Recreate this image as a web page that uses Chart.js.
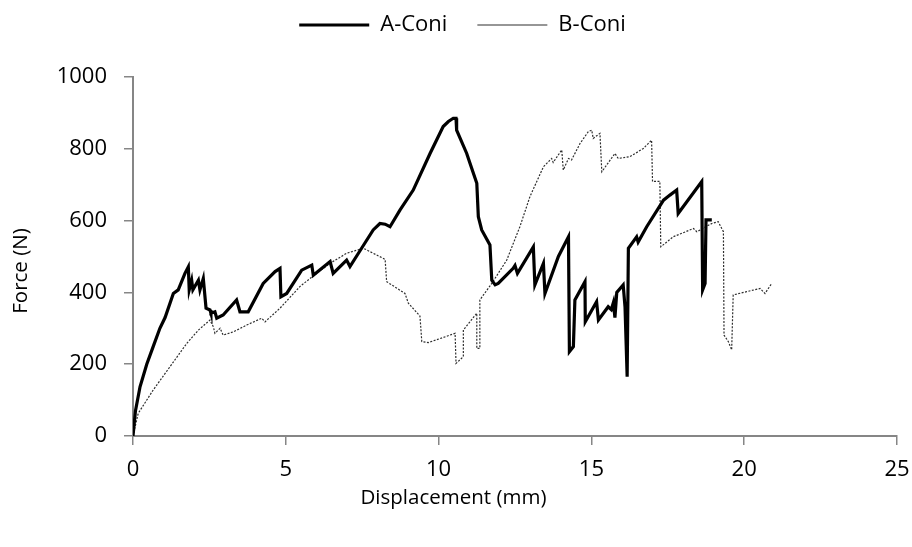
<!DOCTYPE html>
<html>
<head>
<meta charset="utf-8">
<script src="https://cdn.jsdelivr.net/npm/chart.js@4.4.0/dist/chart.umd.min.js"></script>
<style>
  html, body { margin: 0; padding: 0; background: #fff; }
  #wrap { width: 912px; height: 547px; }
</style>
</head>
<body>
<div id="wrap"><canvas id="forceChart"></canvas></div>
<script>
// displacement (mm) / force (N) readings for each specimen
const aDisp = [0, 0.08, 0.23, 0.45, 0.66, 0.88, 1.05, 1.32, 1.48, 1.70, 1.81, 1.84, 1.92, 1.96, 2.14, 2.19, 2.30, 2.39, 2.52, 2.55, 2.68, 2.74, 2.95, 3.39, 3.50, 3.77, 4.26, 4.65, 4.81, 4.84, 5.03, 5.52, 5.85, 5.90, 6.45, 6.55, 6.99, 7.10, 7.48, 7.86, 8.08, 8.25, 8.41, 8.74, 9.17, 9.72, 10.15, 10.32, 10.48, 10.57, 10.59, 10.92, 11.03, 11.25, 11.30, 11.41, 11.68, 11.74, 11.85, 11.95, 12.44, 12.50, 12.58, 13.10, 13.15, 13.43, 13.48, 13.92, 14.25, 14.28, 14.41, 14.46, 14.79, 14.80, 15.17, 15.23, 15.55, 15.65, 15.72, 15.77, 15.83, 16.04, 16.10, 16.17, 16.21, 16.48, 16.53, 16.81, 17.36, 17.57, 17.79, 17.84, 18.61, 18.64, 18.72, 18.75, 18.94];
const aForce = [0, 70, 137, 200, 249, 300, 330, 397, 407, 453, 471, 407, 434, 407, 434, 407, 439, 356, 351, 342, 346, 328, 337, 379, 346, 346, 425, 458, 467, 388, 397, 462, 476, 448, 486, 453, 490, 472, 523, 574, 592, 590, 583, 630, 685, 787, 862, 876, 885, 885, 852, 787, 759, 704, 611, 574, 532, 434, 421, 425, 467, 475, 453, 527, 421, 481, 397, 500, 555, 235, 249, 379, 430, 318, 374, 323, 360, 352, 372, 330, 400, 421, 360, 165, 523, 555, 540, 583, 657, 671, 685, 620, 709, 407, 425, 602, 602];

const bDisp = [0, 0.17, 0.66, 1.21, 1.76, 2.14, 2.52, 2.63, 2.68, 2.85, 2.95, 3.28, 3.72, 4.21, 4.32, 4.81, 5.46, 5.90, 6.45, 6.99, 7.54, 7.86, 8.25, 8.30, 8.90, 9.01, 9.39, 9.45, 9.66, 10.54, 10.57, 10.81, 10.81, 11.25, 11.25, 11.35, 11.35, 11.74, 12.23, 12.66, 12.99, 13.43, 13.70, 13.75, 14.03, 14.08, 14.25, 14.35, 14.63, 14.90, 15.01, 15.06, 15.28, 15.34, 15.77, 15.88, 16.26, 16.70, 16.97, 17.00, 17.24, 17.27, 17.68, 18.34, 18.45, 18.94, 19.15, 19.32, 19.34, 19.48, 19.59, 19.64, 20.08, 20.52, 20.68, 20.90];
const bForce = [0, 63, 128, 193, 258, 295, 323, 304, 286, 300, 281, 290, 309, 328, 318, 356, 416, 446, 481, 509, 523, 509, 492, 430, 397, 370, 334, 263, 260, 286, 202, 221, 295, 342, 244, 244, 379, 425, 490, 583, 667, 750, 773, 762, 797, 741, 773, 769, 815, 848, 852, 829, 843, 736, 787, 773, 778, 801, 824, 709, 709, 527, 555, 578, 569, 592, 597, 569, 281, 263, 240, 393, 402, 411, 397, 425];

const seriesNames = ['A-Coni', 'B-Coni'];
const xTicks = [0, 5, 10, 15, 20, 25];
const yTicks = [0, 200, 400, 600, 800, 1000];
const xTitle = 'Displacement (mm)';
const yTitle = 'Force (N)';

const toPoints = (xs, ys) => xs.map((x, i) => ({ x: x, y: ys[i] }));

Chart.defaults.font.family = '"Open Sans", sans-serif';
Chart.defaults.color = '#000';

const axisGrey = '#868686';

// fixed legend band height; the legend and axis titles sit centred on the
// whole figure rather than on the plot area, so shift them after layout
const figureLayout = {
  id: 'figureLayout',
  afterInit(chart) {
    const legend = chart.legend;
    const fit = legend.fit;
    legend.fit = function () {
      fit.call(this);
      this.height = 93;
    };
  },
  afterLayout(chart) {
    chart.legend.left += 2;
    chart.legend.right += 2;
    chart.titleBlock.left -= 7;
    chart.titleBlock.right -= 7;
    const side = chart.boxes.find(b => b.options && b.options.text === yTitle);
    if (side) {
      side.top += 24;
      side.bottom += 24;
    }
  },
};

new Chart(document.getElementById('forceChart'), {
  type: 'scatter',
  data: {
    datasets: [
      {
        label: seriesNames[0],
        data: toPoints(aDisp, aForce),
        showLine: true,
        borderColor: '#000',
        backgroundColor: '#000',
        borderWidth: 3.2,
        pointRadius: 0,
        pointStyle: 'line',
      },
      {
        label: seriesNames[1],
        data: toPoints(bDisp, bForce),
        showLine: true,
        borderColor: '#2e2e2e',
        backgroundColor: '#2e2e2e',
        borderWidth: 1.2,
        borderDash: [2, 1.5],
        pointRadius: 0,
        pointStyle: 'line',
      },
    ],
  },
  plugins: [figureLayout],
  options: {
    responsive: true,
    maintainAspectRatio: false,
    animation: false,
    layout: { padding: { top: -16, right: 0, bottom: 37, left: 9 } },
    plugins: {
      tooltip: { enabled: false },
      legend: {
        position: 'top',
        labels: {
          usePointStyle: true,
          pointStyleWidth: 70,
          boxHeight: 22,
          padding: 30,
          font: { size: 22 },
        },
      },
      title: {
        display: true,
        position: 'bottom',
        text: xTitle,
        font: { size: 20.5, weight: 'normal' },
        padding: 0,
      },
      subtitle: {
        display: true,
        position: 'left',
        text: yTitle,
        font: { size: 20.5, weight: 'normal' },
        padding: 0,
      },
    },
    scales: {
      x: {
        type: 'linear',
        min: 0,
        max: 25,
        afterBuildTicks: (scale) => { scale.ticks = xTicks.map(v => ({ value: v })); },
        afterFit: (scale) => {
          scale.height = 49.4;
          scale.paddingLeft = 0;
          scale.paddingRight = 15;
        },
        ticks: { font: { size: 22 }, padding: 12 },
        grid: { drawOnChartArea: false, color: axisGrey, lineWidth: 1.5, tickLength: 9 },
        border: { color: axisGrey, width: 2 },
      },
      y: {
        type: 'linear',
        min: 0,
        max: 1000,
        afterBuildTicks: (scale) => { scale.ticks = yTicks.map(v => ({ value: v })); },
        afterFit: (scale) => { scale.width = 99.4; },
        ticks: { font: { size: 22 }, padding: 17, callback: (v) => String(v) },
        grid: { drawOnChartArea: false, color: axisGrey, lineWidth: 1.5, tickLength: 9 },
        border: { color: axisGrey, width: 2 },
      },
    },
  },
});
</script>
</body>
</html>
